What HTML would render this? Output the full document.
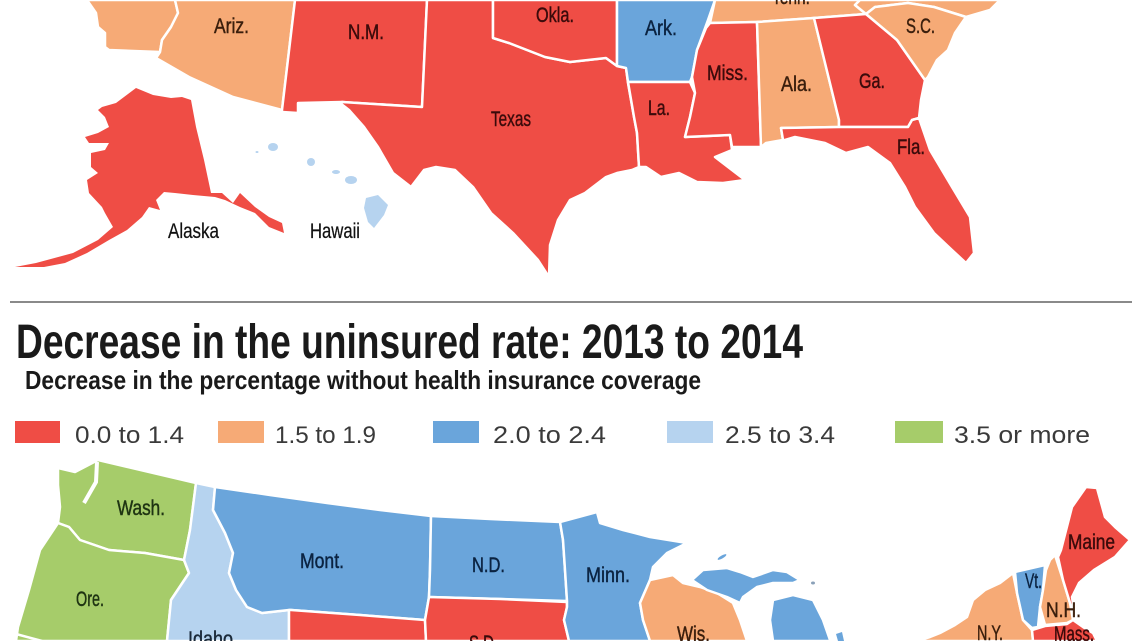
<!DOCTYPE html>
<html><head><meta charset="utf-8"><style>
html,body{margin:0;padding:0;background:#fff;}
svg{display:block;}
text{font-family:"Liberation Sans",sans-serif;}
</style></head><body>
<svg width="1140" height="641" viewBox="0 0 1140 641" xmlns="http://www.w3.org/2000/svg">
<rect width="1140" height="641" fill="#fff"/>

<!-- ===== TOP MAP ===== -->
<g stroke="#fff" stroke-width="2.5" stroke-linejoin="round">
  <polygon fill="#f6aa76" points="87,0 175,0 178,13 171,27 162,40 160,52 109,50 105,47 105,33 98,27 96,13"/>
  <polygon fill="#f6aa76" points="175,0 295,0 282,110 233,97 189,77 156,58 160,52 162,40 171,27 178,13"/>
  <polygon fill="#ef4d45" points="295,0 427,0 422,107 342,102 298,103 298,113 282,112 282,110"/>
  <polygon fill="#ef4d45" points="427,0 493,0 493,38 509,43 545,57 570,62 606,58 617,66 626,68 628,83 634,117 637,133 639,167 632,170 617,173 606,177 585,193 570,200 558,220 550,245 549,277 538,260 513,233 491,213 473,187 455,170 436,167 424,170 411,187 393,173 378,147 364,127 349,110 340,103 342,102 422,107"/>
  <polygon fill="#ef4d45" points="493,0 617,0 617,66 606,58 570,62 545,57 509,43 493,38"/>
  <polygon fill="#6aa5db" points="617,0 715,0 708,20 697,50 692,77 690,82 628,82 626,68 617,66"/>
  <polygon fill="#ef4d45" points="628,82 690,82 695,93 690,117 685,137 730,135 732,150 715,157 745,180 723,183 697,182 679,173 661,177 646,167 639,167 637,133 634,117"/>
  <polygon fill="#f6aa76" points="715,0 860,0 855,5 866,14 814,18 757,22 710,23"/>
  <polygon fill="#f6aa76" points="860,0 1000,0 990,10 966,17 934,7 908,3 875,7 866,14 855,5"/>
  <polygon fill="#ef4d45" points="710,23 757,22 761,147 732,147 730,135 685,137 690,117 695,93 692,77 697,50 706,28"/>
  <polygon fill="#f6aa76" points="757,22 814,18 839,120 839,127 781,128 783,140 766,143 761,147"/>
  <polygon fill="#ef4d45" points="814,18 866,14 897,40 925,80 921,100 919,118 912,120 908,127 839,127 839,120"/>
  <polygon fill="#ef4d45" points="781,128 839,127 908,127 912,120 919,118 930,150 952,187 970,217 974,253 966,263 952,250 934,233 915,207 905,187 890,163 868,147 846,153 825,143 795,137 785,140 783,140"/>
  <polygon fill="#f6aa76" points="866,14 875,7 908,3 934,7 966,17 955,33 948,50 937,60 928,77 925,80 897,40"/>
</g>

<!-- Alaska -->
<polygon fill="#ef4d45" points="136,88 153,95 171,98 182,97 191,100 196,127 204,160 211,193 222,193 233,203 240,193 255,207 269,217 282,223 284,233 269,227 255,213 240,207 225,200 215,197 193,195 175,193 164,192 156,200 160,210 149,207 142,217 127,230 109,240 87,253 65,263 44,267 15,267 36,263 73,253 98,240 113,227 105,213 102,207 89,193 87,180 98,173 91,167 91,153 105,150 109,143 89,143 85,137 98,133 109,127 105,117 98,110 102,107 116,103 124,97"/>
<!-- Hawaii -->
<g fill="#b6d3ef">
  <ellipse cx="273" cy="147" rx="5" ry="4"/>
  <ellipse cx="257" cy="152" rx="1.5" ry="1"/>
  <ellipse cx="311" cy="162" rx="4" ry="4"/>
  <ellipse cx="336" cy="172" rx="4" ry="2"/>
  <ellipse cx="351" cy="180" rx="6" ry="4"/>
  <polygon points="366,198 378,195 388,205 384,215 374,228 368,222 364,208"/>
</g>

<!-- top labels -->
<g font-size="21" stroke-width="0.45">
  <text x="214" y="33" textLength="35" lengthAdjust="spacingAndGlyphs" fill="#3a1e0c" stroke="#3a1e0c">Ariz.</text>
  <text x="348" y="39" textLength="36" lengthAdjust="spacingAndGlyphs" fill="#3b0b0b" stroke="#3b0b0b">N.M.</text>
  <text x="536" y="22" textLength="38" lengthAdjust="spacingAndGlyphs" fill="#3b0b0b" stroke="#3b0b0b">Okla.</text>
  <text x="772" y="4" textLength="38" lengthAdjust="spacingAndGlyphs" fill="#3a1e0c" stroke="#3a1e0c">Tenn.</text>
  <text x="491" y="126" textLength="40" lengthAdjust="spacingAndGlyphs" fill="#3b0b0b" stroke="#3b0b0b">Texas</text>
  <text x="645" y="35" textLength="32" lengthAdjust="spacingAndGlyphs" fill="#0b2341" stroke="#0b2341">Ark.</text>
  <text x="707" y="80" textLength="41" lengthAdjust="spacingAndGlyphs" fill="#3b0b0b" stroke="#3b0b0b">Miss.</text>
  <text x="781" y="91" textLength="31" lengthAdjust="spacingAndGlyphs" fill="#3a1e0c" stroke="#3a1e0c">Ala.</text>
  <text x="859" y="88" textLength="26" lengthAdjust="spacingAndGlyphs" fill="#3b0b0b" stroke="#3b0b0b">Ga.</text>
  <text x="648" y="115" textLength="22" lengthAdjust="spacingAndGlyphs" fill="#3b0b0b" stroke="#3b0b0b">La.</text>
  <text x="906" y="33" textLength="29" lengthAdjust="spacingAndGlyphs" fill="#3a1e0c" stroke="#3a1e0c">S.C.</text>
  <text x="897" y="154" textLength="28" lengthAdjust="spacingAndGlyphs" fill="#3b0b0b" stroke="#3b0b0b">Fla.</text>
  <text x="168" y="238" textLength="51" lengthAdjust="spacingAndGlyphs" fill="#111" stroke="#111" stroke-width="0.25">Alaska</text>
  <text x="310" y="238" textLength="50" lengthAdjust="spacingAndGlyphs" fill="#111" stroke="#111" stroke-width="0.25">Hawaii</text>
</g>

<!-- separator -->
<rect x="10" y="301" width="1122" height="2" fill="#8a8a8a"/>

<!-- titles -->
<text x="16" y="358" font-size="48" font-weight="bold" fill="#1a1a1a" textLength="787" lengthAdjust="spacingAndGlyphs">Decrease in the uninsured rate: 2013 to 2014</text>
<text x="25" y="389" font-size="26" font-weight="bold" fill="#1a1a1a" textLength="676" lengthAdjust="spacingAndGlyphs">Decrease in the percentage without health insurance coverage</text>

<!-- legend -->
<rect x="15" y="421" width="45" height="22" fill="#ef4d45"/>
<rect x="218" y="421" width="46" height="22" fill="#f6aa76"/>
<rect x="433" y="421" width="46" height="22" fill="#6aa5db"/>
<rect x="667" y="421" width="46" height="22" fill="#b6d3ef"/>
<rect x="895" y="421" width="48" height="22" fill="#a6cc6a"/>
<g font-size="24" fill="#3a3a3a">
  <text x="75" y="443" textLength="109" lengthAdjust="spacingAndGlyphs">0.0 to 1.4</text>
  <text x="275" y="443" textLength="101" lengthAdjust="spacingAndGlyphs">1.5 to 1.9</text>
  <text x="493" y="443" textLength="113" lengthAdjust="spacingAndGlyphs">2.0 to 2.4</text>
  <text x="725" y="443" textLength="110" lengthAdjust="spacingAndGlyphs">2.5 to 3.4</text>
  <text x="954" y="443" textLength="136" lengthAdjust="spacingAndGlyphs">3.5 or more</text>
</g>

<!-- ===== BOTTOM MAP ===== -->
<g stroke="#fff" stroke-width="2.5" stroke-linejoin="round">
  <polygon fill="#a6cc6a" points="58,468 75,472 98,460 196,483 190,530 184,560 145,553 109,550 80,540 69,527 58,523 60,507 58,485"/>
  <polygon fill="#a6cc6a" points="58,523 69,527 80,540 109,550 145,553 184,560 189,573 171,600 167,641 16,641 18,627 29,590 40,550"/>
  <polygon fill="#b6d3ef" points="196,483 215,487 213,510 225,533 233,553 229,573 236,590 247,607 262,613 289,610 289,641 167,641 171,600 189,573 184,560 190,530"/>
  <polygon fill="#6aa5db" points="215,487 270,495 327,503 380,510 431,516 430,570 429,597 425,620 360,615 291,610 289,610 262,613 247,607 236,590 229,573 233,553 225,533 213,510"/>
  <polygon fill="#ef4d45" points="291,610 360,615 425,620 426,641 289,641 289,610"/>
  <polygon fill="#6aa5db" points="431,516 490,519 560,522 563,540 565,570 567,601 500,599 429,597 430,570"/>
  <polygon fill="#ef4d45" points="429,597 500,599 567,602 567,607 564,620 569,641 426,641 425,620"/>
  <!-- Minnesota -->
  <polygon fill="#6aa5db" points="560,522 597,512 600,523 623,530 650,537 687,543 667,553 653,567 650,580 640,603 643,620 650,641 569,641 564,620 567,607 567,601 565,570 563,540"/>
  <!-- Wisconsin -->
  <polygon fill="#f6aa76" points="650,580 673,575 683,583 700,587 717,593 733,603 740,620 747,641 650,641 643,620 640,603"/>
  <!-- Upper Michigan -->
  <polygon fill="#6aa5db" points="692,580 703,570 727,568 740,572 753,577 773,570 787,572 800,580 793,583 773,583 757,587 743,597 740,603 727,597 707,590"/>
  <!-- Lower Michigan -->
  <polygon fill="#6aa5db" points="773,600 793,595 813,600 823,620 830,640 831,641 773,641 770,620"/>
  <polygon fill="#f6aa76" points="1000,583 1013,573 1017,593 1023,620 1032,630 1033,641 917,641 930,637 940,633 955,625 967,617 973,600 985,590"/>
  <polygon fill="#6aa5db" points="1015,572 1045,565 1043,590 1040,607 1038,627 1032,628 1023,620 1017,593"/>
  <polygon fill="#f6aa76" points="1050,560 1055,555 1063,580 1070,603 1073,620 1067,623 1045,625 1040,607 1043,590 1046,570"/>
  <polygon fill="#ef4d45" points="1072,507 1086,487 1097,488 1105,517 1115,527 1130,540 1115,557 1094,570 1079,583 1072,597 1075,617 1070,603 1063,580 1058,557 1061,550"/>
  <polygon fill="#ef4d45" points="1032,630 1045,626 1067,624 1073,620 1083,627 1093,633 1097,641 1033,641"/>
</g>
<polyline points="97,462 96,482 88,496 84,503" fill="none" stroke="#fff" stroke-width="4"/>
<line x1="16" y1="634" x2="42" y2="641" stroke="#fff" stroke-width="2.5"/>
<ellipse cx="722" cy="557" rx="5" ry="1.5" fill="#6aa5db" transform="rotate(-30 722 557)"/>
<ellipse cx="813" cy="583" rx="2" ry="1.5" fill="#8aa0b8"/>
<polygon points="836,634 842,632 844,641 838,641" fill="#6aa5db"/>

<!-- bottom labels -->
<g font-size="21" stroke-width="0.45">
  <text x="117" y="515" textLength="48" lengthAdjust="spacingAndGlyphs" fill="#1e3312" stroke="#1e3312">Wash.</text>
  <text x="76" y="606" textLength="28" lengthAdjust="spacingAndGlyphs" fill="#1e3312" stroke="#1e3312">Ore.</text>
  <text x="300" y="568" textLength="44" lengthAdjust="spacingAndGlyphs" fill="#0b2341" stroke="#0b2341">Mont.</text>
  <text x="472" y="572" textLength="33" lengthAdjust="spacingAndGlyphs" fill="#0b2341" stroke="#0b2341">N.D.</text>
  <text x="188" y="646" textLength="45" lengthAdjust="spacingAndGlyphs" fill="#1b2a3a" stroke="#1b2a3a">Idaho</text>
  <text x="469" y="650" textLength="29" lengthAdjust="spacingAndGlyphs" fill="#3b0b0b" stroke="#3b0b0b">S.D.</text>
  <text x="586" y="582" textLength="44" lengthAdjust="spacingAndGlyphs" fill="#0b2341" stroke="#0b2341">Minn.</text>
  <text x="677" y="641" textLength="33" lengthAdjust="spacingAndGlyphs" fill="#3a1e0c" stroke="#3a1e0c">Wis.</text>
  <text x="1025" y="588" textLength="17" lengthAdjust="spacingAndGlyphs" fill="#0b2341" stroke="#0b2341">Vt.</text>
  <text x="1046" y="617" textLength="35" lengthAdjust="spacingAndGlyphs" fill="#3a1e0c" stroke="#3a1e0c">N.H.</text>
  <text x="977" y="640" textLength="26" lengthAdjust="spacingAndGlyphs" fill="#3a1e0c" stroke="#3a1e0c">N.Y.</text>
  <text x="1054" y="641" textLength="40" lengthAdjust="spacingAndGlyphs" fill="#3b0b0b" stroke="#3b0b0b">Mass.</text>
  <text x="1068" y="549" textLength="47" lengthAdjust="spacingAndGlyphs" fill="#3b0b0b" stroke="#3b0b0b">Maine</text>
</g>
</svg>
</body></html>
